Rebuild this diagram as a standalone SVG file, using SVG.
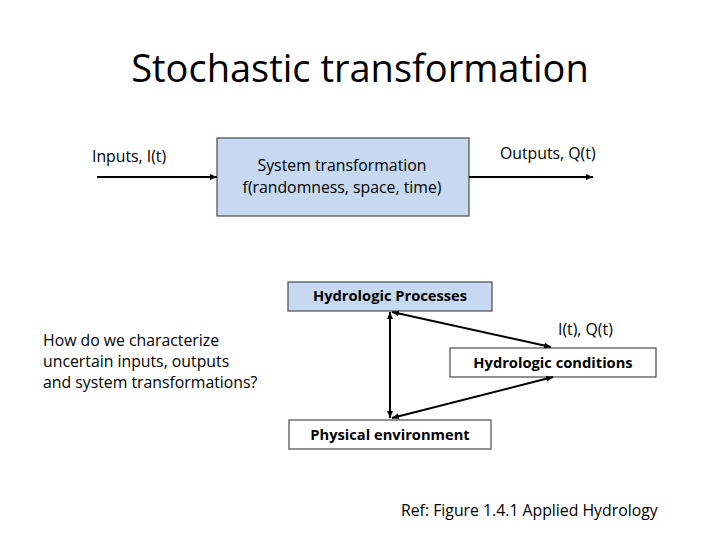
<svg xmlns="http://www.w3.org/2000/svg" width="720" height="540" viewBox="0 0 720 540">
<style>
text{font-family:"Open Sans","Liberation Sans",sans-serif;fill:#000}
.t{font-size:15.8px}
.b{font-size:14.7px;font-weight:bold}
.box{stroke:#4a4a4a;stroke-width:1.2}
.blue{fill:#c6d9f1}
.white{fill:#fff}
.ln{stroke:#000;stroke-width:2;fill:none}
</style>
<defs>
<marker id="ah" markerWidth="8" markerHeight="8" refX="7" refY="4" orient="auto-start-reverse" markerUnits="userSpaceOnUse">
<path d="M0,1 L7,4 L0,7 Z" fill="#000"/>
</marker>
</defs>
<text x="360" y="82" text-anchor="middle" style="font-size:38px;font-family:'Open Sans','Liberation Sans',sans-serif">Stochastic transformation</text>
<g id="system">
<rect class="box blue" x="217" y="138" width="252" height="78"/>
<text class="t" x="342" y="171" text-anchor="middle">System transformation</text>
<text class="t" x="342" y="193" text-anchor="middle">f(randomness, space, time)</text>
</g>
<g id="inputs"><text class="t" x="92" y="162">Inputs, I(t)</text></g>
<g id="outputs"><text class="t" x="500" y="159">Outputs, Q(t)</text></g>
<g id="processes">
<rect class="box blue" x="288" y="282" width="204" height="29"/>
<text class="b" x="390" y="301" text-anchor="middle">Hydrologic Processes</text>
</g>
<g id="conditions">
<rect class="box white" x="450" y="348" width="206" height="29"/>
<text class="b" x="553" y="368" text-anchor="middle">Hydrologic conditions</text>
</g>
<g id="environment">
<rect class="box white" x="289" y="420" width="202" height="29"/>
<text class="b" x="390" y="440" text-anchor="middle">Physical environment</text>
</g>
<g id="iq"><text class="t" x="558" y="335">I(t), Q(t)</text></g>
<g id="question">
<text class="t" x="43" y="346">How do we characterize</text>
<text class="t" x="43" y="367">uncertain inputs, outputs</text>
<text class="t" x="43" y="388">and system transformations?</text>
</g>
<g id="ref"><text class="t" x="401" y="516">Ref: Figure 1.4.1 Applied Hydrology</text></g>
<g id="connectors">
<line class="ln" x1="97" y1="177" x2="217" y2="177" marker-end="url(#ah)"/>
<line class="ln" x1="469" y1="177" x2="593" y2="177" marker-end="url(#ah)"/>
<line class="ln" x1="390" y1="312" x2="390" y2="418" marker-start="url(#ah)" marker-end="url(#ah)"/>
<line class="ln" x1="392" y1="312" x2="551" y2="347" marker-start="url(#ah)" marker-end="url(#ah)"/>
<line class="ln" x1="392" y1="418" x2="553" y2="377" marker-start="url(#ah)" marker-end="url(#ah)"/>
</g>
</svg>
